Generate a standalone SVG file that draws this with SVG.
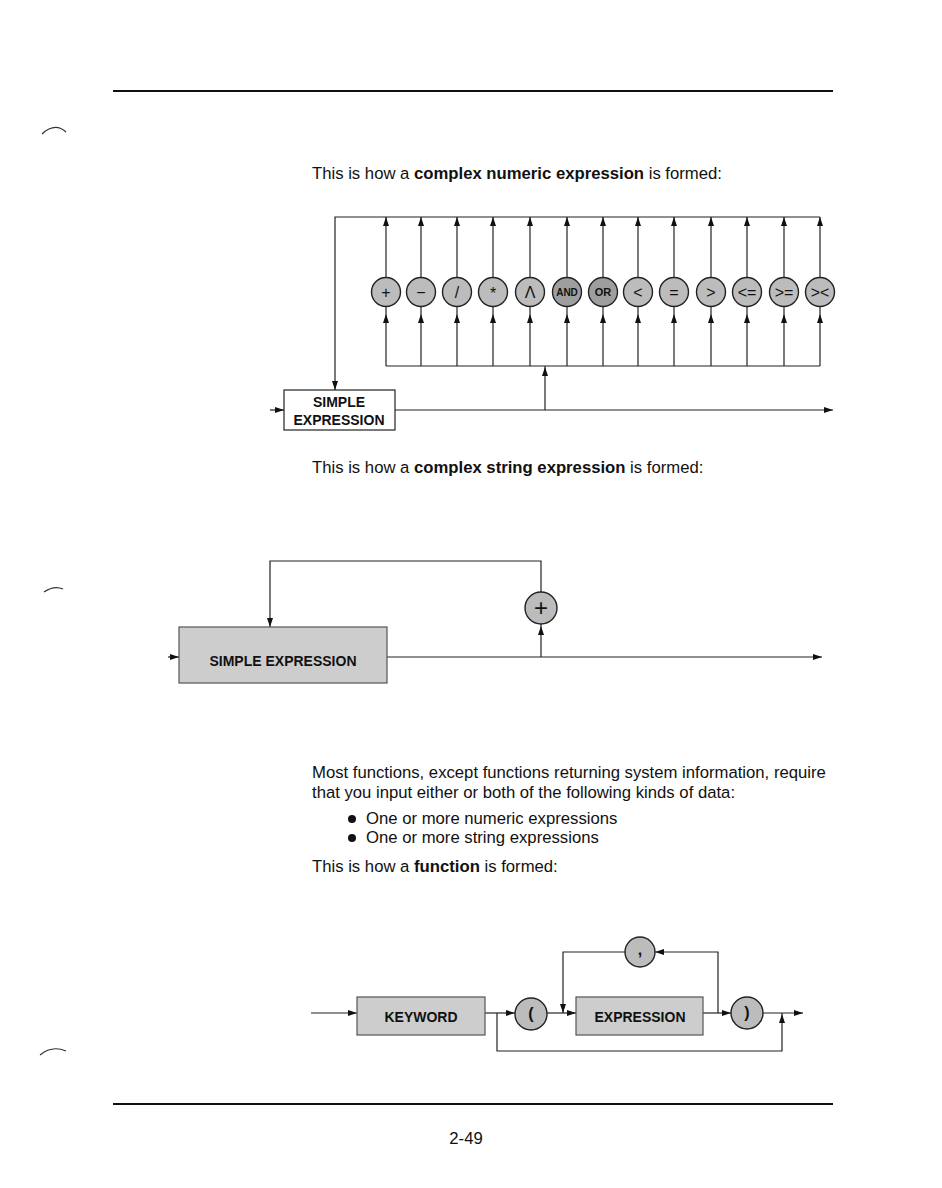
<svg xmlns="http://www.w3.org/2000/svg" xmlns:xlink="http://www.w3.org/1999/xlink" width="942" height="1188" viewBox="0 0 942 1188">
<style>
text{font-family:"Liberation Sans",Arial,Helvetica,sans-serif;fill:#111}
.body{font-size:16.7px}
.b{font-weight:bold}
.ln{stroke:#222;stroke-width:1.2;fill:none}
.rule{stroke:#111;stroke-width:2.2}
.op{fill:#bcbcbc;stroke:#222;stroke-width:1.4}
.opd{fill:#9e9e9e;stroke:#222;stroke-width:1.4}
.box{fill:#cdcdcd;stroke:#555;stroke-width:1.2}
.wbox{fill:#fff;stroke:#222;stroke-width:1.2}
.ot{font-size:16px;text-anchor:middle}
.os{font-size:10px;font-weight:bold;text-anchor:middle}
.bt{font-size:14px;font-weight:bold;text-anchor:middle}
.scan{stroke:#333;stroke-width:1.2;fill:none}
</style>
<defs>
<path id="au" d="M0,0 L-3,9 L3,9 Z" fill="#111"/>
<path id="ad" d="M0,0 L-3,-9 L3,-9 Z" fill="#111"/>
<path id="ar" d="M0,0 L-9,-3 L-9,3 Z" fill="#111"/>
<path id="al" d="M0,0 L9,-3 L9,3 Z" fill="#111"/>
</defs>

<g id="page">
<line class="rule" x1="113" y1="91" x2="833" y2="91"/>
<line class="rule" x1="113" y1="1104" x2="833" y2="1104"/>
<path class="scan" d="M42,134 Q55,122 66,132"/>
<path class="scan" d="M44,592 Q54,585 63,589"/>
<path class="scan" d="M40,1055 Q52,1045 66,1051"/>
<text class="body" x="466" y="1144" text-anchor="middle">2-49</text>
</g>

<g id="texts">
<text class="body" x="312" y="179">This is how a <tspan class="b">complex numeric expression</tspan> is formed:</text>
<text class="body" x="312" y="473">This is how a <tspan class="b">complex string expression</tspan> is formed:</text>
<text class="body" x="312" y="778">Most functions, except functions returning system information, require</text>
<text class="body" x="312" y="798">that you input either or both of the following kinds of data:</text>
<circle cx="352" cy="819" r="4" fill="#111"/>
<text class="body" x="366" y="824">One or more numeric expressions</text>
<circle cx="352" cy="838" r="4" fill="#111"/>
<text class="body" x="366" y="843">One or more string expressions</text>
<text class="body" x="312" y="872">This is how a <tspan class="b">function</tspan> is formed:</text>
</g>

<!-- Diagram 1 connectors -->
<g id="connectors1">
<polyline class="ln" points="335,390 335,217 820,217"/>
<line class="ln" x1="386" y1="366" x2="820" y2="366"/>
<line class="ln" x1="395" y1="410" x2="833" y2="410"/>
<line class="ln" x1="270" y1="410" x2="284" y2="410"/>
<line class="ln" x1="545" y1="410" x2="545" y2="366"/>
<use xlink:href="#ad" x="335" y="390"/>
<use xlink:href="#ar" x="284" y="410"/>
<use xlink:href="#ar" x="833" y="410"/>
<use xlink:href="#au" x="545" y="367"/>
<g id="verticals">
<line class="ln" x1="386" y1="217" x2="386" y2="366"/><use xlink:href="#au" x="386" y="217"/><use xlink:href="#au" x="386" y="314"/>
<line class="ln" x1="421" y1="217" x2="421" y2="366"/><use xlink:href="#au" x="421" y="217"/><use xlink:href="#au" x="421" y="314"/>
<line class="ln" x1="457" y1="217" x2="457" y2="366"/><use xlink:href="#au" x="457" y="217"/><use xlink:href="#au" x="457" y="314"/>
<line class="ln" x1="493" y1="217" x2="493" y2="366"/><use xlink:href="#au" x="493" y="217"/><use xlink:href="#au" x="493" y="314"/>
<line class="ln" x1="530" y1="217" x2="530" y2="366"/><use xlink:href="#au" x="530" y="217"/><use xlink:href="#au" x="530" y="314"/>
<line class="ln" x1="567" y1="217" x2="567" y2="366"/><use xlink:href="#au" x="567" y="217"/><use xlink:href="#au" x="567" y="314"/>
<line class="ln" x1="603" y1="217" x2="603" y2="366"/><use xlink:href="#au" x="603" y="217"/><use xlink:href="#au" x="603" y="314"/>
<line class="ln" x1="638" y1="217" x2="638" y2="366"/><use xlink:href="#au" x="638" y="217"/><use xlink:href="#au" x="638" y="314"/>
<line class="ln" x1="674" y1="217" x2="674" y2="366"/><use xlink:href="#au" x="674" y="217"/><use xlink:href="#au" x="674" y="314"/>
<line class="ln" x1="711" y1="217" x2="711" y2="366"/><use xlink:href="#au" x="711" y="217"/><use xlink:href="#au" x="711" y="314"/>
<line class="ln" x1="747" y1="217" x2="747" y2="366"/><use xlink:href="#au" x="747" y="217"/><use xlink:href="#au" x="747" y="314"/>
<line class="ln" x1="784" y1="217" x2="784" y2="366"/><use xlink:href="#au" x="784" y="217"/><use xlink:href="#au" x="784" y="314"/>
<line class="ln" x1="820" y1="217" x2="820" y2="366"/><use xlink:href="#au" x="820" y="217"/><use xlink:href="#au" x="820" y="314"/>
</g>
</g>

<g id="op-plus"><circle class="op" cx="386" cy="292" r="14.5"/><text class="ot" x="386" y="298">+</text></g>
<g id="op-minus"><circle class="op" cx="421" cy="292" r="14.5"/><text class="ot" x="421" y="298">−</text></g>
<g id="op-div"><circle class="op" cx="457" cy="292" r="14.5"/><text class="ot" x="457" y="298">/</text></g>
<g id="op-mul"><circle class="op" cx="493" cy="292" r="14.5"/><text class="ot" x="493" y="299">*</text></g>
<g id="op-pow"><circle class="op" cx="530" cy="292" r="14.5"/><text class="ot" x="530" y="298">Λ</text></g>
<g id="op-and"><circle class="opd" cx="567" cy="292" r="14.5"/><text class="os" x="567" y="296">AND</text></g>
<g id="op-or"><circle class="opd" cx="603" cy="292" r="14.5"/><text class="os" x="603" y="296" style="font-size:11px">OR</text></g>
<g id="op-lt"><circle class="op" cx="638" cy="292" r="14.5"/><text class="ot" x="638" y="298">&lt;</text></g>
<g id="op-eq"><circle class="op" cx="674" cy="292" r="14.5"/><text class="ot" x="674" y="298">=</text></g>
<g id="op-gt"><circle class="op" cx="711" cy="292" r="14.5"/><text class="ot" x="711" y="298">&gt;</text></g>
<g id="op-le"><circle class="op" cx="747" cy="292" r="14.5"/><text class="ot" x="747" y="298">&lt;=</text></g>
<g id="op-ge"><circle class="op" cx="784" cy="292" r="14.5"/><text class="ot" x="784" y="298">&gt;=</text></g>
<g id="op-ne"><circle class="op" cx="820" cy="292" r="14.5"/><text class="ot" x="820" y="298">&gt;&lt;</text></g>

<g id="simple-expr-1">
<rect class="wbox" x="284" y="390" width="111" height="40"/>
<text class="bt" x="339" y="407">SIMPLE</text>
<text class="bt" x="339" y="425">EXPRESSION</text>
</g>

<!-- Diagram 2 -->
<g id="connectors2">
<polyline class="ln" points="270,627 270,561 541,561 541,592"/>
<line class="ln" x1="387" y1="657" x2="822" y2="657"/>
<line class="ln" x1="168" y1="657" x2="179" y2="657"/>
<line class="ln" x1="541" y1="657" x2="541" y2="624"/>
<use xlink:href="#ad" x="270" y="627"/>
<use xlink:href="#ar" x="179" y="657"/>
<use xlink:href="#ar" x="822" y="657"/>
<use xlink:href="#au" x="541" y="626"/>
</g>
<g id="simple-expr-2">
<rect class="box" x="179" y="627" width="208" height="56"/>
<text x="283" y="666" style="font-size:14px;font-weight:bold;text-anchor:middle">SIMPLE EXPRESSION</text>
</g>
<g id="op-concat"><circle class="op" cx="541" cy="608" r="16"/><text x="541" y="616" style="font-size:24px;text-anchor:middle">+</text></g>

<!-- Diagram 3 -->
<g id="connectors3">
<line class="ln" x1="311" y1="1013" x2="357" y2="1013"/>
<use xlink:href="#ar" x="357" y="1013"/>
<line class="ln" x1="485" y1="1013" x2="515" y2="1013"/>
<use xlink:href="#ar" x="515" y="1013"/>
<line class="ln" x1="547" y1="1013" x2="576" y2="1013"/>
<use xlink:href="#ar" x="576" y="1013"/>
<line class="ln" x1="703" y1="1013" x2="731" y2="1013"/>
<use xlink:href="#ar" x="731" y="1013"/>
<line class="ln" x1="763" y1="1013" x2="803" y2="1013"/>
<use xlink:href="#ar" x="803" y="1013"/>
<polyline class="ln" points="497,1013 497,1051 782,1051 782,1013"/>
<use xlink:href="#au" x="782" y="1014"/>
<polyline class="ln" points="718,1013 718,952 655,952"/>
<use xlink:href="#al" x="655" y="952"/>
<polyline class="ln" points="625,952 563,952 563,1013"/>
<use xlink:href="#ad" x="563" y="1013"/>
</g>
<g id="keyword"><rect class="box" x="357" y="997" width="128" height="38"/><text class="bt" x="421" y="1022">KEYWORD</text></g>
<g id="lparen"><circle class="op" cx="531" cy="1014" r="16"/><text class="ot" x="531" y="1019" style="font-weight:bold">(</text></g>
<g id="expression"><rect class="box" x="576" y="997" width="127" height="38"/><text class="bt" x="640" y="1022">EXPRESSION</text></g>
<g id="comma"><circle class="op" cx="640" cy="952" r="15"/><text class="ot" x="640" y="955" style="font-weight:bold">,</text></g>
<g id="rparen"><circle class="op" cx="747" cy="1013" r="16"/><text class="ot" x="747" y="1018" style="font-weight:bold">)</text></g>
</svg>
